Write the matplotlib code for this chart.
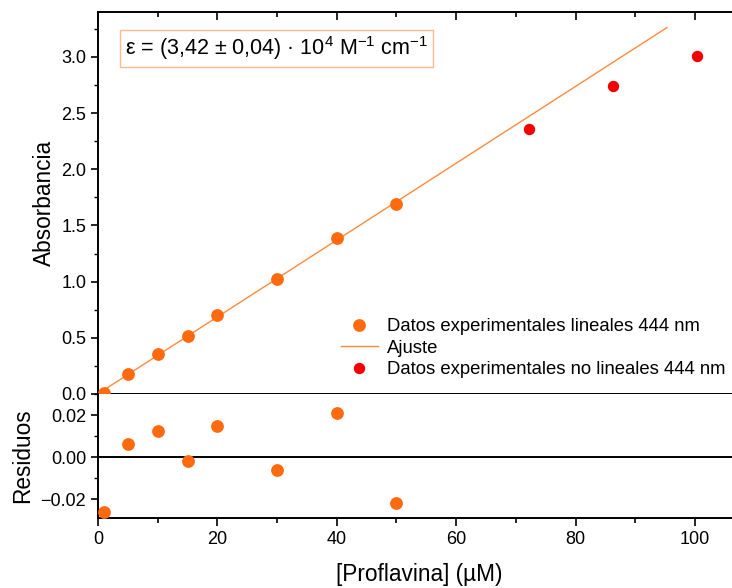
import matplotlib
matplotlib.use("Agg")
import matplotlib.pyplot as plt
from matplotlib.ticker import MultipleLocator, FuncFormatter
from matplotlib.lines import Line2D

plt.rcParams['font.family'] = ['Liberation Sans', 'DejaVu Sans']
plt.rcParams['mathtext.fontset'] = 'custom'
plt.rcParams['mathtext.rm'] = 'Liberation Sans'
plt.rcParams['mathtext.it'] = 'Liberation Sans:italic'

# Linear-range measurements (444 nm)
conc_lin = [1, 5, 10, 15, 20, 30, 40, 50]                     # µM
abs_lin = [0.010, 0.179, 0.357, 0.513, 0.701, 1.022, 1.391, 1.690]
residuals = [-0.026, 0.006, 0.0125, -0.002, 0.015, -0.006, 0.021, -0.022]

# Non-linear range measurements (444 nm)
conc_nonlin = [72.2, 86.3, 100.3]
abs_nonlin = [2.36, 2.74, 3.01]

# Linear fit: slope from epsilon (3.42e4 M^-1 cm^-1 -> 0.0342 per µM), intercept
fit_slope = 0.0342
fit_intercept = 0.002
fit_range = [0.5, 95.3]

c_orange = '#FF6A0E'
c_fit = '#FF8A3D'
c_red = '#F50000'

tick_fs = 13
label_fs = 16.3

fig = plt.figure(figsize=(7.32, 5.88), dpi=100)
left, right = 98 / 732, 1.0
top_ax = fig.add_axes([left, 1 - 394 / 588, right - left, (394 - 12) / 588])
res_ax = fig.add_axes([left, 1 - 518 / 588, right - left, (518 - 394) / 588], sharex=top_ax)

lw_spine = 1.4

# ---- Absorbance panel
top_ax.plot(conc_lin, abs_lin, 'o', color=c_orange, ms=9.2, mec='none', zorder=3)
fit_y = [fit_intercept + fit_slope * x for x in fit_range]
top_ax.plot(fit_range, fit_y, '-', color=c_fit, lw=1.0, zorder=2)
top_ax.plot(conc_nonlin, abs_nonlin, 'o', color=c_red, ms=8.2, mec='none', zorder=3)

top_ax.set_xlim(0, 106.2)
top_ax.set_ylim(0, 3.40)
top_ax.yaxis.set_major_locator(MultipleLocator(0.5))
top_ax.yaxis.set_minor_locator(MultipleLocator(0.25))
top_ax.xaxis.set_major_locator(MultipleLocator(20))
top_ax.xaxis.set_minor_locator(MultipleLocator(10))
top_ax.set_ylabel('Absorbancia', fontsize=label_fs, labelpad=4)
top_ax.spines['right'].set_visible(False)
for s in ('left', 'top', 'bottom'):
    top_ax.spines[s].set_linewidth(lw_spine)
top_ax.tick_params(axis='y', which='major', direction='out', length=5, width=1.2, labelsize=tick_fs)
top_ax.tick_params(axis='y', which='minor', direction='out', length=3, width=1.0)
top_ax.tick_params(axis='x', which='both', bottom=True, top=True, labelbottom=False,
                   direction='out', width=1.2)
top_ax.tick_params(axis='x', which='major', length=6)
top_ax.tick_params(axis='x', which='minor', length=3.5)

# top-side ticks point into the panel
for t in top_ax.xaxis.get_major_ticks() + top_ax.xaxis.get_minor_ticks():
    t.tick2line.set_marker(3)  # TICKDOWN

top_ax.text(0.042, 0.905, r'ε = (3,42 ± 0,04) · 10$^{4}$ M$^{-1}$ cm$^{-1}$',
            transform=top_ax.transAxes, fontsize=15.5, va='center', ha='left',
            bbox=dict(boxstyle='square,pad=0.22', fc='white', ec='#FFB990', lw=1.0))

handles = [
    Line2D([], [], ls='none', marker='o', color=c_orange, ms=9.2, mec='none'),
    Line2D([], [], ls='-', color=c_fit, lw=1.0),
    Line2D([], [], ls='none', marker='o', color=c_red, ms=8.2, mec='none'),
]
labels = ['Datos experimentales lineales 444 nm', 'Ajuste',
          'Datos experimentales no lineales 444 nm']
top_ax.legend(handles, labels, loc='lower right', bbox_to_anchor=(1.007, 0.012),
              frameon=False, fontsize=13.3, handlelength=2.0, handletextpad=0.5,
              labelspacing=0.25, borderaxespad=0.2)

# ---- Residuals panel
res_ax.plot(conc_lin, residuals, 'o', color=c_orange, ms=9.2, mec='none', zorder=3)
res_ax.axhline(0, color='black', lw=1.4, zorder=1)
res_ax.set_ylim(-0.029, 0.030)
res_ax.yaxis.set_major_locator(MultipleLocator(0.02))
res_ax.yaxis.set_minor_locator(MultipleLocator(0.01))
res_ax.yaxis.set_major_formatter(FuncFormatter(lambda v, p: f'{v:.2f}'.replace('-', '\u2212')))
res_ax.set_ylabel('Residuos', fontsize=label_fs, labelpad=4.5)
res_ax.set_xlabel('[Proflavina] (µM)', fontsize=label_fs)
res_ax.xaxis.set_label_coords(0.506, -0.365)
res_ax.spines['right'].set_visible(False)
res_ax.spines['top'].set_visible(False)
for s in ('left', 'bottom'):
    res_ax.spines[s].set_linewidth(lw_spine)
res_ax.tick_params(axis='y', which='major', direction='out', length=5, width=1.2, labelsize=tick_fs)
res_ax.tick_params(axis='y', which='minor', direction='out', length=3, width=1.0)
res_ax.tick_params(axis='x', which='major', direction='out', length=6, width=1.2, labelsize=tick_fs,
                   top=False)
res_ax.tick_params(axis='x', which='minor', direction='out', length=3.5, width=1.2, top=False)

fig.savefig('out.png', dpi=100)
